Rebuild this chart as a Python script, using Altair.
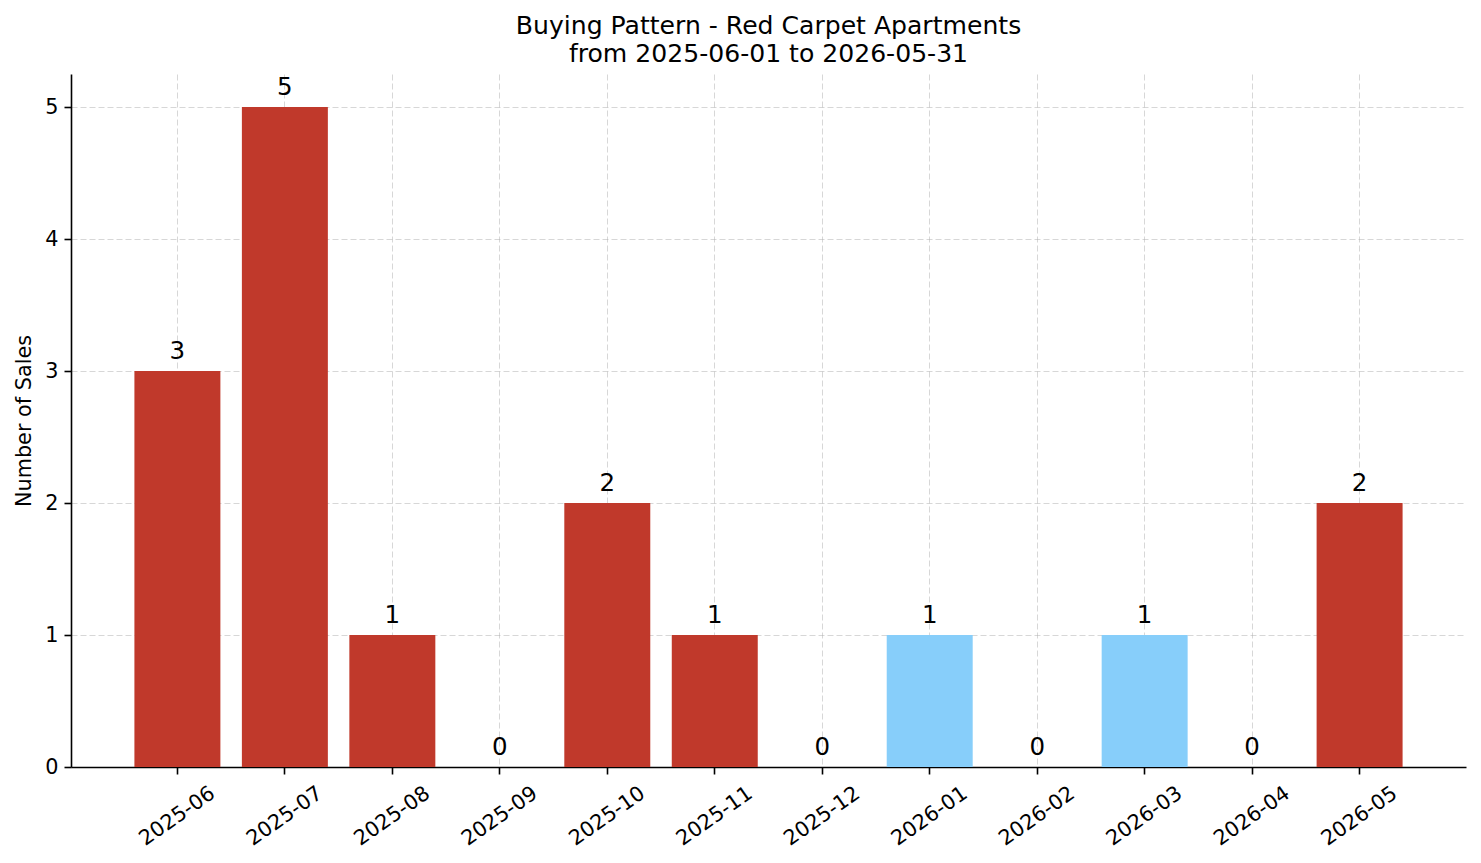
import altair as alt
import pandas as pd

# Monthly sales counts for the reporting window
months = ["2025-06", "2025-07", "2025-08", "2025-09", "2025-10", "2025-11",
          "2025-12", "2026-01", "2026-02", "2026-03", "2026-04", "2026-05"]
sales = [3, 5, 1, 0, 2, 1, 0, 1, 0, 1, 0, 2]
bar_colors = ["#C0392B", "#C0392B", "#C0392B", "#C0392B", "#C0392B", "#C0392B",
              "#C0392B", "#87CEFA", "#C0392B", "#87CEFA", "#C0392B", "#C0392B"]
y_ticks = [0, 1, 2, 3, 4, 5]

title_lines = ["Buying Pattern - Red Carpet Apartments",
               "from 2025-06-01 to 2026-05-31"]

FONT = "DejaVu Sans"

df = pd.DataFrame({"month": months, "sales": sales, "color": bar_colors})

x = alt.X(
    "month:O",
    sort=months,
    scale=alt.Scale(type="band", paddingInner=0.2, paddingOuter=0.59),
    axis=alt.Axis(
        title=None,
        labelAngle=-35,
        labelAlign="center",
        labelBaseline="middle",
        labelPadding=42,
        grid=True,
        bandPosition=0.5,
    ),
)
y = alt.Y(
    "sales:Q",
    scale=alt.Scale(domain=[0, 5.25], nice=False, zero=True),
    axis=alt.Axis(
        title="Number of Sales",
        values=y_ticks,
        grid=True,
        titleAngle=270,
        titleBaseline="alphabetic",
        titleX=-41,
        titleY=346.5,
        labelPadding=6,
    ),
)

bars = alt.Chart(df).mark_bar().encode(
    x=x,
    y=y,
    color=alt.Color("color:N", scale=None),
)

labels = alt.Chart(df).mark_text(
    baseline="alphabetic",
    align="center",
    dy=-12,
    fontSize=24.5,
    font=FONT,
    color="black",
).encode(x=x, y=y, text="sales:Q")

chart = (
    (bars + labels)
    .properties(
        width=1395,
        height=693,
        title=alt.Title(
            title_lines,
            anchor="middle",
            frame="group",
            baseline="bottom",
            offset=6,
            dy=24,
            fontSize=25.1,
            lineHeight=28.3,
            font=FONT,
            fontWeight="normal",
            color="black",
        ),
        autosize=alt.AutoSizeParams(type="none"),
        padding={"left": 71, "top": 74, "right": 15, "bottom": 96},
        background="white",
    )
    .configure_view(stroke=None)
    .configure_axis(
        zindex=1,
        domainColor="black",
        domainWidth=1.6,
        tickColor="black",
        tickWidth=1.6,
        tickSize=7,
        labelFont=FONT,
        labelFontSize=20.8,
        labelColor="black",
        titleFont=FONT,
        titleFontSize=20.8,
        titleFontWeight="normal",
        titleColor="black",
        gridColor="#b0b0b0",
        gridOpacity=0.5,
        gridWidth=1,
        gridDash=[6, 3],
    )
)

chart.save("out.html", embed_options={"renderer": "svg", "actions": False})
